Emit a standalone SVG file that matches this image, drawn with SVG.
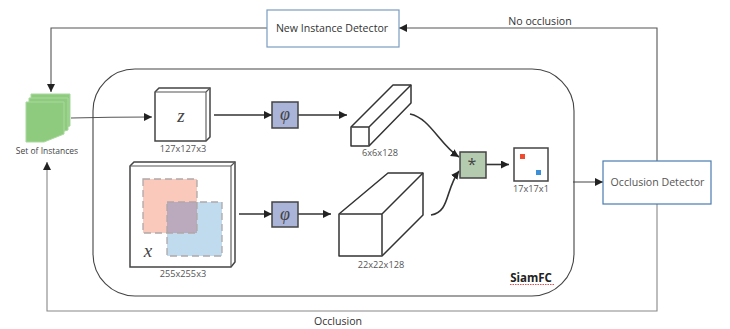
<svg xmlns="http://www.w3.org/2000/svg" width="730" height="329" viewBox="0 0 730 329">
<defs>
<marker id="ah" markerUnits="userSpaceOnUse" markerWidth="10" markerHeight="10" refX="8" refY="4" orient="auto"><path d="M0 0L8 4L0 8z" fill="#222"/></marker>
</defs>
<style>
text{font-family:"Open Sans","DejaVu Sans",sans-serif;fill:#444;text-anchor:middle}
.s{font-size:8.5px}
.n{font-size:9.2px;fill:#555}
.l{font-size:10.6px;fill:#333}
.m{font-family:"Liberation Serif",serif;font-style:italic;fill:#444}
.c{fill:none;stroke:#555;stroke-width:1.1}
.t{fill:none;stroke:#333;stroke-width:1.6}
.b{fill:#fff;stroke:#444;stroke-width:1.5}
.d{fill:#fff;stroke:#7a9cc0;stroke-width:1.2}
.o{fill:#fff;stroke:#4a7bb0;stroke-width:1.2}
.p{fill:#aab3d8;stroke:#444;stroke-width:1.5}
.e{fill:#fff;stroke:#333;stroke-width:1.5;stroke-linejoin:round}
.g{fill:#8fcb7f;stroke:#a8d99c;stroke-width:1}
.h{stroke:#b0a8a8;stroke-width:1.300;stroke-dasharray:7 4}
</style>
<g id="connectors">
<path class="c" d="M267 28H51V92" marker-end="url(#ah)"/>
<path class="c" d="M657 162V28H399" marker-end="url(#ah)"/>
<path class="c" d="M71 118Q110 117 152 117" marker-end="url(#ah)"/>
<path class="c" d="M657 204V311H47V162" marker-end="url(#ah)" style="stroke:#888"/>
<path class="c" d="M573 182H603" marker-end="url(#ah)"/>
<path class="t" d="M214 115H272" marker-end="url(#ah)"/>
<path class="t" d="M298 115H347" marker-end="url(#ah)"/>
<path class="t" d="M239 214H272" marker-end="url(#ah)"/>
<path class="t" d="M298 214H331" marker-end="url(#ah)"/>
<path class="t" d="M410 114C430 118 440 145 459 157" marker-end="url(#ah)"/>
<path class="t" d="M431 215C450 212 445 190 459 171" marker-end="url(#ah)"/>
<path class="t" d="M486 164.500H509" marker-end="url(#ah)"/>
</g>
<g id="siamfc"><rect x="93" y="69" width="481" height="227" rx="42" ry="42" fill="none" stroke="#444" stroke-width="1.1"/><text x="531" y="282" style="font-size:11.500px;font-weight:700;fill:#222">SiamFC</text><path d="M510 284.500H555" fill="none" stroke="#e05050" stroke-width="1" stroke-dasharray="1.500 1"/></g>
<g id="new-instance"><rect class="d" x="267" y="10" width="132" height="37"/><text class="l" x="332" y="32">New Instance Detector</text></g>
<g id="occlusion-detector"><rect class="o" x="603" y="161" width="108" height="43"/><text class="l" x="657.500" y="186" style="fill:#555">Occlusion Detector</text></g>
<g id="set-of-instances">
<path class="g" d="M31 94H70V126L50 132H31z"/><path class="g" d="M29 98H68V130L48 136H29z"/><path class="g" d="M26 102H64V134L44 142H26z"/>
<text class="s" x="47" y="154">Set of Instances</text></g>
<g id="z-input"><path class="b" d="M155 92L159 88H210V137L206 141H155z"/><path class="c" d="M155 92H206V141M206 92L210 88"/><text class="m" x="181" y="122" font-size="19">z</text><text class="n" x="183" y="152">127x127x3</text></g>
<g id="x-input"><path class="b" d="M130 166L134 162H235V262L231 267H130z"/><path class="c" d="M130 166H231V267M231 166L235 162"/>
<rect x="143" y="179" width="54" height="54" fill="#fac9bc"/>
<rect x="167" y="202" width="55" height="54" fill="#c0daee"/>
<rect x="167" y="202" width="30" height="31" fill="#bba9bd"/>
<rect class="h" x="143" y="179" width="54" height="54" fill="none"/>
<rect class="h" x="167" y="202" width="55" height="54" fill="none"/>
<text class="m" x="148" y="257" font-size="19">x</text><text class="n" x="183" y="277">255x255x3</text></g>
<g id="phi-top"><rect class="p" x="272" y="102" width="26" height="26"/><text class="m" x="285" y="120" font-size="18">φ</text></g>
<g id="phi-bottom"><rect class="p" x="272" y="202" width="26" height="25"/><text class="m" x="285" y="220" font-size="18">φ</text></g>
<g id="feat-small"><path class="e" d="M351 127L393 85H411V103L369 146H351z"/><path class="e" d="M351 127H369V146M369 127L411 85" fill="none"/><text class="n" x="380" y="156">6x6x128</text></g>
<g id="feat-large"><path class="e" d="M339 214L388 173H423V215L382 256H339z"/><path class="e" d="M339 214H382V256M382 214L423 173" fill="none"/><text class="n" x="381" y="268">22x22x128</text></g>
<g id="correlation"><rect x="460" y="152" width="26" height="26" fill="#b5cbb0" stroke="#444" stroke-width="1.500"/><text x="472" y="170" style="font-size:16px;fill:#444">*</text></g>
<g id="score-map"><rect class="b" x="514" y="148" width="34" height="33"/><rect x="520" y="154" width="5" height="5" fill="#f04a30"/><rect x="536" y="170" width="5" height="5" fill="#3a8fd8"/><text class="n" x="531" y="192">17x17x1</text></g>
<text class="l" x="540" y="25">No occlusion</text>
<text class="l" x="338" y="325">Occlusion</text>
</svg>
